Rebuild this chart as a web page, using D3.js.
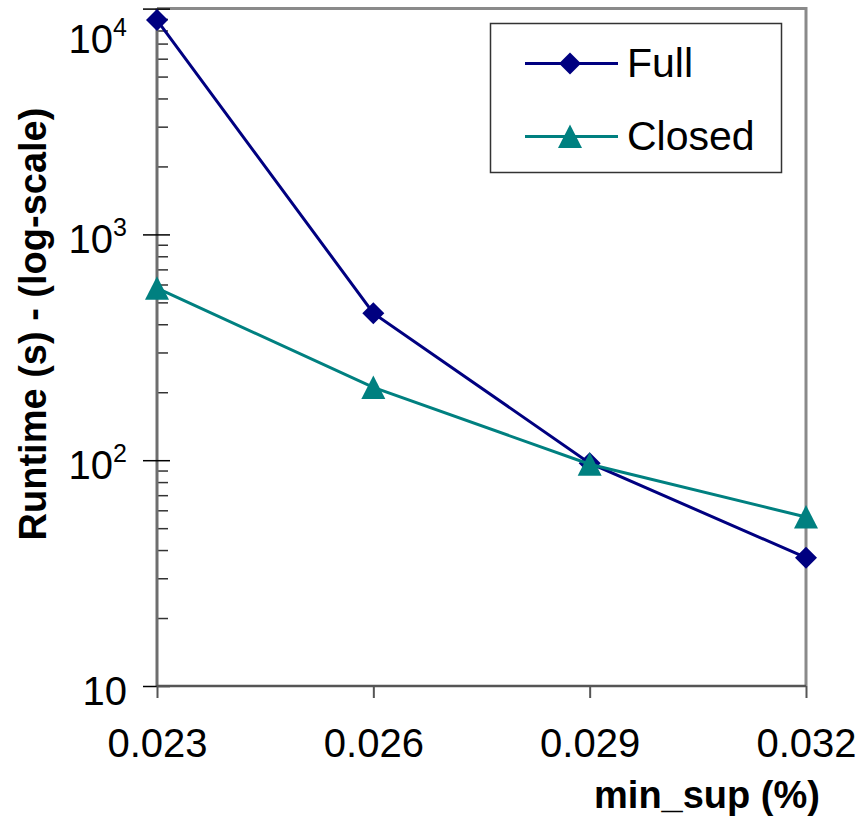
<!DOCTYPE html>
<html>
<head>
<meta charset="utf-8">
<script src="https://cdn.jsdelivr.net/npm/d3@7"></script>
<style>
  body { margin: 0; background: #fff; }
  svg { font-family: "Liberation Sans", Arial, sans-serif; }
</style>
</head>
<body>
<svg id="chart"></svg>
<script>
// values
var minSup = ["0.023", "0.026", "0.029", "0.032"];
var fullRuntime = [8900, 448, 97, 37];
var closedRuntime = [578, 210, 96, 56];
var seriesNames = ["Full", "Closed"];
var majorTicks = [10, 100, 1000, 10000];

var settings = {
    width: 862,
    height: 816,
    left: 157,
    top: 8.6,
    right: 806,
    bottom: 686
};
var colors = { Full: "#000080", Closed: "#008080" };

var svg = d3.select("#chart")
    .attr("width", settings.width)
    .attr("height", settings.height);

var x = d3.scalePoint()
    .domain(minSup)
    .range([settings.left, settings.right]);

var y = d3.scaleLog()
    .domain([10, 10000])
    .range([settings.bottom, settings.top]);

// frame (top + right), grey
svg.append("path")
    .attr("d", "M" + settings.left + "," + settings.top + "H" + settings.right + "V" + settings.bottom)
    .attr("fill", "none")
    .attr("stroke", "#8a8a8a")
    .attr("stroke-width", 3);

// minor ticks inside the left axis
var minors = [];
[10, 100, 1000].forEach(function(d) {
    for (var k = 2; k <= 9; k++) minors.push(d * k);
});
svg.append("g")
    .attr("transform", "translate(" + settings.left + ",0)")
    .call(d3.axisRight(y).tickValues(minors).tickSize(11).tickFormat(""))
    .call(g => g.select(".domain").remove())
    .call(g => g.selectAll(".tick line").attr("stroke", "#333").attr("stroke-width", 1.5));

// major ticks crossing the axis
var yAxis = svg.append("g")
    .attr("transform", "translate(" + settings.left + ",0)")
    .call(d3.axisLeft(y).tickValues(majorTicks).tickSize(14).tickFormat(""));
yAxis.select(".domain")
    .attr("d", "M0," + settings.top + "V" + settings.bottom)
    .attr("stroke", "#6e6e6e")
    .attr("stroke-width", 3);
yAxis.selectAll(".tick line")
    .attr("x1", 13)
    .attr("stroke", "#000")
    .attr("stroke-width", 1.5);

// y tick labels, powers of ten (top one pushed down to stay inside)
var yLabels = svg.append("g");
majorTicks.forEach(function(v) {
    var p = Math.round(Math.log10(v));
    var base = Math.max(y(v) + 19, 53);
    var t = yLabels.append("text")
        .attr("x", 127)
        .attr("y", base)
        .attr("text-anchor", "end")
        .attr("font-size", 40)
        .attr("fill", "#000");
    t.append("tspan").text("10");
    if (p > 1) {
        t.append("tspan")
            .attr("font-size", 25)
            .attr("dy", -17)
            .text(p);
    }
});

// x axis
var xAxis = svg.append("g")
    .attr("transform", "translate(0," + settings.bottom + ")")
    .call(d3.axisBottom(x).tickSize(12).tickPadding(30));
xAxis.select(".domain")
    .attr("d", "M" + settings.left + ",0H" + settings.right)
    .attr("stroke", "#555")
    .attr("stroke-width", 2.5);
xAxis.selectAll(".tick line").attr("stroke", "#555").attr("stroke-width", 2);
xAxis.selectAll(".tick text")
    .attr("font-size", 40)
    .attr("font-family", "Liberation Sans, Arial, sans-serif")
    .attr("fill", "#000")
    .attr("dy", "0")
    .attr("y", 71);

// axis titles
svg.append("text")
    .attr("x", 707)
    .attr("y", 808)
    .attr("text-anchor", "middle")
    .attr("font-size", 38)
    .attr("font-weight", "bold")
    .text("min_sup (%)");

svg.append("text")
    .attr("transform", "translate(46,324) rotate(-90)")
    .attr("text-anchor", "middle")
    .attr("font-size", 38)
    .attr("font-weight", "bold")
    .text("Runtime (s) - (log-scale)");

// series
var line = d3.line()
    .x((d, i) => x(minSup[i]))
    .y(d => y(d));

var diamond = "M0,-11L11,0L0,11L-11,0Z";
var triangle = "M0,-12L12,11.5L-12,11.5Z";

function drawSeries(values, color, markerPath) {
    svg.append("path")
        .datum(values)
        .attr("fill", "none")
        .attr("stroke", color)
        .attr("stroke-width", 3)
        .attr("d", line);
    svg.append("g")
        .selectAll("path")
        .data(values)
        .join("path")
        .attr("transform", (d, i) => "translate(" + x(minSup[i]) + "," + y(d) + ")")
        .attr("d", markerPath)
        .attr("fill", color);
}
drawSeries(fullRuntime, colors.Full, diamond);
drawSeries(closedRuntime, colors.Closed, triangle);

// legend
var legend = svg.append("g");
legend.append("rect")
    .attr("x", 490.5)
    .attr("y", 23.5)
    .attr("width", 291)
    .attr("height", 149)
    .attr("fill", "#fff")
    .attr("stroke", "#333")
    .attr("stroke-width", 1.5);

var legendRows = [
    { name: seriesNames[0], color: colors.Full, marker: diamond, y: 63.5 },
    { name: seriesNames[1], color: colors.Closed, marker: triangle, y: 136.5 }
];
legendRows.forEach(function(r) {
    legend.append("line")
        .attr("x1", 525).attr("x2", 618)
        .attr("y1", r.y).attr("y2", r.y)
        .attr("stroke", r.color)
        .attr("stroke-width", 3);
    legend.append("path")
        .attr("transform", "translate(570," + r.y + ")")
        .attr("d", r.marker)
        .attr("fill", r.color);
    legend.append("text")
        .attr("x", 627)
        .attr("y", r.y + 13)
        .attr("font-size", 41)
        .attr("fill", "#000")
        .text(r.name);
});
</script>
</body>
</html>
